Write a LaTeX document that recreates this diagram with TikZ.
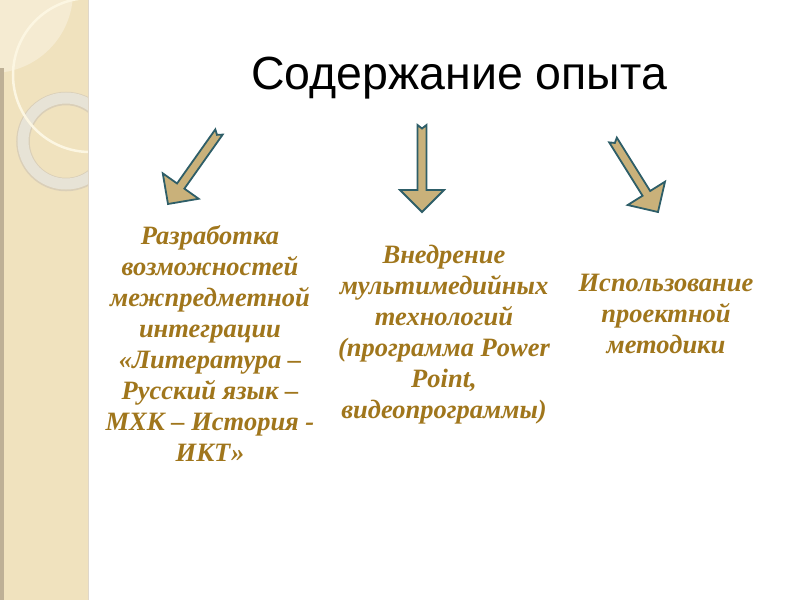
\documentclass[tikz,border=0pt]{standalone}
\usepackage{fontspec}
\setmainfont{Liberation Serif}
\newfontfamily\titlefont{Liberation Sans}
\usetikzlibrary{calc}
\definecolor{stripbg}{RGB}{240,226,190}
\definecolor{striplight}{RGB}{245,235,210}
\definecolor{stripedge}{RGB}{190,176,150}
\definecolor{ringcol}{RGB}{231,227,214}
\definecolor{ringedge}{RGB}{218,207,184}
\definecolor{circcol}{RGB}{252,246,226}
\definecolor{textgold}{RGB}{160,118,28}
\definecolor{arrfill}{RGB}{201,177,122}
\definecolor{arrline}{RGB}{46,94,104}
\tikzset{
  blockarr/.style={fill=arrfill, draw=arrline, line width=1.8pt, line join=miter},
  bodytext/.style={text=textgold, align=center, font=\fontsize{26.5}{31}\selectfont\bfseries\itshape, inner sep=0pt},
  titletext/.style={font=\titlefont\fontsize{46.5}{53}\selectfont, text=black, inner sep=0pt}
}
\newcommand\blockarrow[3]{%
  \coordinate (#3h) at ($(#2)!22pt!(#1)$);
  \coordinate (#3n) at ($(#1)!3.5pt!(#2)$);
  \draw[blockarr] ($(#1)!4.5pt!90:(#2)$) -- ($(#3h)!4.5pt!90:(#2)$) -- ($(#3h)!22pt!90:(#2)$) -- (#2) -- ($(#3h)!22pt!-90:(#2)$) -- ($(#3h)!4.5pt!-90:(#2)$) -- ($(#1)!4.5pt!-90:(#2)$) -- (#3n) -- cycle;}
\begin{document}
\begin{tikzpicture}[x=1pt,y=-1pt]
\useasboundingbox (0,0) rectangle (800,600);
\fill[white] (0,0) rectangle (800,600);
% decorative strip
\begin{scope}
  \clip (0,0) rectangle (88,600);
  \fill[stripbg] (0,0) rectangle (88,600);
  \fill[striplight] (-8,-8) circle (81);
  \fill[stripedge] (0,68) rectangle (4,600);
  \draw[ringedge, line width=13.5pt] (66,141.5) circle (43);
  \draw[ringcol, line width=11pt] (66,141) circle (43);
  \draw[circcol, line width=2.5pt] (90,75) circle (77);
\end{scope}
\draw[stripedge!50, line width=0.8pt] (88,0) -- (88,600);
% title
\node[titletext, anchor=base] (title) at (459,89) {Содержание опыта};
% arrows
\coordinate (lt) at (219,132); \coordinate (lp) at (168,204);
\coordinate (mt) at (422,125); \coordinate (mp) at (422,212);
\coordinate (rt) at (613,140); \coordinate (rp) at (658,212);
\blockarrow{lt}{lp}{la}
\blockarrow{mt}{mp}{ma}
\blockarrow{rt}{rp}{ra}
% texts
\node[bodytext] (left) at (210,344) {Разработка\\возможностей\\межпредметной\\интеграции\\«Литература –\\Русский язык –\\МХК – История -\\ИКТ»};
\node[bodytext] (mid) at (444,335) {Внедрение\\мультимедийных\\технологий\\(программа Power\\Point,\\видеопрограммы)};
\node[bodytext] (right) at (666,314) {Использование\\проектной\\методики};
\end{tikzpicture}
\end{document}
